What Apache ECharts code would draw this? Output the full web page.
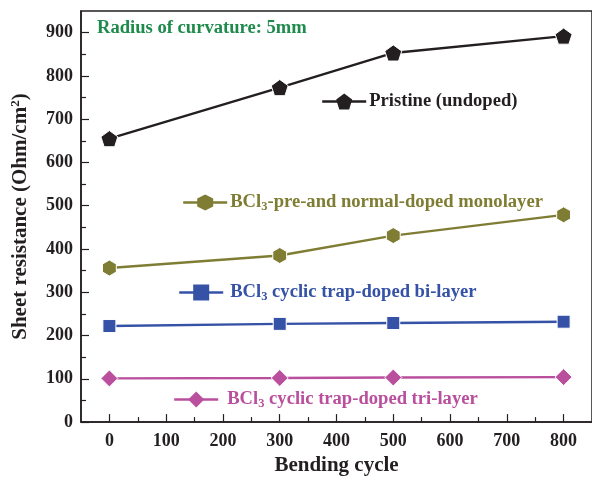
<!DOCTYPE html>
<html>
<head>
<meta charset="utf-8">
<script src="https://cdn.jsdelivr.net/npm/echarts@6/dist/echarts.min.js"></script>
<style>
  html, body { margin: 0; padding: 0; background: #fff; }
  #main { width: 592px; height: 481px; }
</style>
</head>
<body>
<div id="main"></div>
<script>
var cycles = [0, 300, 500, 800];
var pristine = [655, 773, 853, 892];
var monolayer = [356, 385, 431, 479];
var bilayer = [222, 227, 229, 232];
var trilayer = [101, 102, 103, 104];

var xTicks = [0, 100, 200, 300, 400, 500, 600, 700, 800];
var xMinor = [50, 150, 250, 350, 450, 550, 650, 750];
var yTicks = [0, 100, 200, 300, 400, 500, 600, 700, 800, 900];
var yMinor = [50, 150, 250, 350, 450, 550, 650, 750, 850];

var names = [
  'Pristine (undoped)',
  'BCl3-pre-and normal-doped monolayer',
  'BCl3 cyclic trap-doped bi-layer',
  'BCl3 cyclic trap-doped tri-layer'
];
var colors = ['#231f20', '#7f7d33', '#3552a6', '#b94f9d'];

var pentagon = 'path://M0,-10 L9.51,-3.09 L5.88,8.09 L-5.88,8.09 L-9.51,-3.09 Z';
var hexagon = 'path://M0,-10 L8.66,-5 L8.66,5 L0,10 L-8.66,5 L-8.66,-5 Z';
var diamond = 'path://M0,-10 L10,0 L0,10 L-10,0 Z';
var symbols = [pentagon, hexagon, 'rect', diamond];
var sizes = [17, 16, 13, 17];

var font = 'Liberation Serif';
var ink = '#231f20';

function pairs(ys) {
  return cycles.map(function (x, i) { return [x, ys[i]]; });
}

function legendText(name) {
  return name.replace('BCl3', 'BCl{sub|3}');
}

function makeLegend(i, left, top, gap) {
  return {
    data: [names[i]],
    left: left,
    top: top,
    padding: 0,
    itemWidth: 44,
    itemHeight: 20,
    itemStyle: { borderWidth: 0 },
    lineStyle: { width: 2.4 },
    formatter: legendText,
    textStyle: {
      fontFamily: font,
      fontWeight: 'bold',
      fontSize: 18.6,
      color: colors[i],
      padding: [0, 0, 0, gap - 5],
      rich: {
        sub: { fontFamily: font, fontWeight: 'bold', fontSize: 12.5, color: colors[i], padding: [9, 0, 0, 0] }
      }
    }
  };
}

var tickFont = { fontFamily: font, fontWeight: 'bold', fontSize: 18, color: ink };
var nameFont = { fontFamily: font, fontWeight: 'bold', fontSize: 21, color: ink };

var seriesData = [pristine, monolayer, bilayer, trilayer];

var myChart = echarts.init(document.getElementById('main'));
var option = {
  animation: false,
  grid: {
    left: 81, right: -3, top: 11, bottom: 56,
    show: true, borderColor: ink, borderWidth: 1.5
  },
  title: {
    text: 'Radius of curvature: 5mm',
    left: 92, top: 14,
    textStyle: { fontFamily: font, fontWeight: 'bold', fontSize: 18.6, color: '#1e8a4c' }
  },
  legend: [
    makeLegend(0, 321, 92, 3),
    makeLegend(1, 182, 193, 3),
    makeLegend(2, 178, 283, 7),
    makeLegend(3, 173, 390, 9)
  ],
  xAxis: [{
    type: 'value',
    min: -50, max: 850,
    name: 'Bending cycle',
    nameLocation: 'middle',
    nameGap: 32,
    nameTextStyle: nameFont,
    axisLine: { onZero: false, lineStyle: { color: ink, width: 1.5 } },
    axisTick: { inside: true, length: 8, customValues: xTicks, lineStyle: { color: ink, width: 1.2 } },
    axisLabel: Object.assign({ margin: 10, customValues: xTicks }, tickFont),
    splitLine: { show: false }
  }, {
    type: 'value',
    min: -50, max: 850,
    position: 'bottom',
    axisLine: { show: false, onZero: false },
    axisTick: { inside: true, length: 5, customValues: xMinor, lineStyle: { color: ink, width: 1.2 } },
    axisLabel: { show: false },
    splitLine: { show: false }
  }],
  yAxis: [{
    type: 'value',
    min: 0, max: 950,
    name: 'Sheet resistance (Ohm/cm{sup|2})',
    nameLocation: 'middle',
    nameGap: 49,
    nameTextStyle: Object.assign({
      rich: { sup: { fontFamily: font, fontWeight: 'bold', fontSize: 13, color: ink, padding: [0, 0, 10, 0] } }
    }, nameFont),
    axisLine: { onZero: false, lineStyle: { color: ink, width: 1.5 } },
    axisTick: { inside: true, length: 8, customValues: yTicks, lineStyle: { color: ink, width: 1.2 } },
    axisLabel: Object.assign({ margin: 8, customValues: yTicks }, tickFont),
    splitLine: { show: false }
  }, {
    type: 'value',
    min: 0, max: 950,
    position: 'left',
    axisLine: { show: false, onZero: false },
    axisTick: { inside: true, length: 5, customValues: yMinor, lineStyle: { color: ink, width: 1.2 } },
    axisLabel: { show: false },
    splitLine: { show: false }
  }],
  series: seriesData.map(function (d, i) {
    return {
      name: names[i],
      type: 'line',
      data: pairs(d),
      symbol: symbols[i],
      symbolSize: sizes[i],
      symbolKeepAspect: true,
      lineStyle: { color: colors[i], width: 2.4 },
      itemStyle: { color: colors[i], borderColor: '#fff', borderWidth: 1 },
      z: 2 + i
    };
  })
};
myChart.setOption(option);
</script>
</body>
</html>
